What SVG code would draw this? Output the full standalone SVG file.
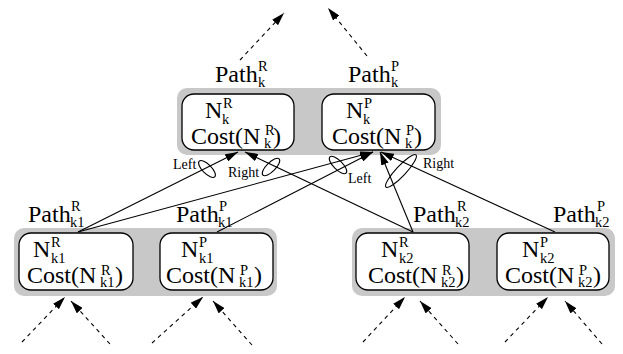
<svg xmlns="http://www.w3.org/2000/svg" width="623" height="354" viewBox="0 0 623 354">
  <style>
    text { font-family: "Liberation Serif", "Times New Roman", serif; fill: #000; }
    .m { font-size: 24px; }
    .s { font-size: 14.5px; }
    .lbl { font-size: 14px; }
    .pair { fill: #c8c8c8; stroke: none; }
    .box { fill: #fff; stroke: #000; stroke-width: 1.3; }
    .edge { fill: none; stroke: #000; stroke-width: 1.1; marker-end: url(#head); }
    .flow { fill: none; stroke: #000; stroke-width: 1.1; stroke-dasharray: 4 4; marker-end: url(#head); }
    .ring { fill: none; stroke: #000; stroke-width: 1.1; }
  </style>
  <defs>
    <marker id="head" viewBox="0 0 13 8" refX="13" refY="4" markerWidth="13" markerHeight="8" orient="auto" markerUnits="userSpaceOnUse">
      <path d="M0,0 L13,4 L0,8 z" fill="#000"/>
    </marker>
  </defs>

  <rect width="623" height="354" fill="#fff"/>

  <!-- shaded pairs -->
  <rect class="pair" x="177" y="88" width="264" height="67" rx="10"/>
  <rect class="pair" x="14" y="228" width="263" height="68" rx="10"/>
  <rect class="pair" x="352" y="228" width="263" height="68" rx="10"/>

  <!-- level k -->
  <g id="node-k-R">
    <text class="m" x="215" y="82">Path<tspan class="s" x="258" y="71">R</tspan><tspan class="s" x="258" y="87">k</tspan></text>
    <rect class="box" x="182" y="94" width="112" height="56" rx="12"/>
    <text class="m" x="205" y="118">N<tspan class="s" x="223" y="108">R</tspan><tspan class="s" x="222" y="124">k</tspan></text>
    <text class="m" x="191" y="144">Cost(N<tspan class="s" x="265" y="135">R</tspan><tspan class="s" x="264" y="148">k</tspan><tspan x="273" y="144">)</tspan></text>
  </g>
  <g id="node-k-P">
    <text class="m" x="348" y="82">Path<tspan class="s" x="391" y="71">P</tspan><tspan class="s" x="391" y="87">k</tspan></text>
    <rect class="box" x="322" y="94" width="113" height="56" rx="12"/>
    <text class="m" x="346" y="118">N<tspan class="s" x="364" y="108">P</tspan><tspan class="s" x="363" y="124">k</tspan></text>
    <text class="m" x="332" y="144">Cost(N<tspan class="s" x="406" y="135">P</tspan><tspan class="s" x="405" y="148">k</tspan><tspan x="414" y="144">)</tspan></text>
  </g>

  <!-- level k1 -->
  <g id="node-k1-R">
    <text class="m" x="28" y="222">Path<tspan class="s" x="71" y="211">R</tspan><tspan class="s" x="70" y="227">k1</tspan></text>
    <rect class="box" x="19" y="233" width="114" height="57" rx="12"/>
    <text class="m" x="33" y="257">N<tspan class="s" x="51" y="247">R</tspan><tspan class="s" x="51" y="263">k1</tspan></text>
    <text class="m" x="27" y="283">Cost(N<tspan class="s" x="101" y="275">R</tspan><tspan class="s" x="100" y="287">k1</tspan><tspan x="115" y="283">)</tspan></text>
  </g>
  <g id="node-k1-P">
    <text class="m" x="176" y="222">Path<tspan class="s" x="219" y="211">P</tspan><tspan class="s" x="218" y="227">k1</tspan></text>
    <rect class="box" x="160" y="233" width="113" height="57" rx="12"/>
    <text class="m" x="181" y="257">N<tspan class="s" x="199" y="247">P</tspan><tspan class="s" x="199" y="263">k1</tspan></text>
    <text class="m" x="166" y="283">Cost(N<tspan class="s" x="240" y="275">P</tspan><tspan class="s" x="239" y="287">k1</tspan><tspan x="254" y="283">)</tspan></text>
  </g>

  <!-- level k2 -->
  <g id="node-k2-R">
    <text class="m" x="413" y="222">Path<tspan class="s" x="457" y="211">R</tspan><tspan class="s" x="455" y="227">k2</tspan></text>
    <rect class="box" x="356" y="233" width="113" height="57" rx="12"/>
    <text class="m" x="381" y="257">N<tspan class="s" x="399" y="247">R</tspan><tspan class="s" x="399" y="263">k2</tspan></text>
    <text class="m" x="368" y="283">Cost(N<tspan class="s" x="442" y="275">R</tspan><tspan class="s" x="441" y="287">k2</tspan><tspan x="456" y="283">)</tspan></text>
  </g>
  <g id="node-k2-P">
    <text class="m" x="553" y="222">Path<tspan class="s" x="597" y="211">P</tspan><tspan class="s" x="595" y="227">k2</tspan></text>
    <rect class="box" x="497" y="233" width="112" height="57" rx="12"/>
    <text class="m" x="522" y="257">N<tspan class="s" x="540" y="247">P</tspan><tspan class="s" x="540" y="263">k2</tspan></text>
    <text class="m" x="505" y="283">Cost(N<tspan class="s" x="579" y="275">P</tspan><tspan class="s" x="578" y="287">k2</tspan><tspan x="593" y="283">)</tspan></text>
  </g>

  <!-- connectors -->
  <g id="connectors">
    <!-- children to parents -->
    <line class="edge" x1="78" y1="232" x2="238" y2="152"/>
    <line class="edge" x1="78" y1="232" x2="373" y2="152"/>
    <line class="edge" x1="217" y1="232" x2="373" y2="152"/>
    <line class="edge" x1="413" y1="232" x2="245" y2="152"/>
    <line class="edge" x1="413" y1="232" x2="380" y2="152"/>
    <line class="edge" x1="555" y1="232" x2="381" y2="152"/>

    <!-- branch markers -->
    <ellipse class="ring" cx="207" cy="169" rx="11" ry="4.5" transform="rotate(45 207 169)"/>
    <text class="lbl" x="173" y="169">Left</text>
    <ellipse class="ring" cx="271" cy="167" rx="11.5" ry="4.5" transform="rotate(-45 271 167)"/>
    <text class="lbl" x="228" y="177">Right</text>
    <ellipse class="ring" cx="338" cy="165" rx="11.5" ry="4.5" transform="rotate(45 338 165)"/>
    <text class="lbl" x="348" y="183">Left</text>
    <ellipse class="ring" cx="401" cy="171" rx="22" ry="5" transform="rotate(-47 401 171)"/>
    <text class="lbl" x="423" y="168">Right</text>

    <!-- continuation above -->
    <line class="flow" x1="240" y1="60" x2="284" y2="13"/>
    <line class="flow" x1="367" y1="56" x2="328" y2="8"/>

    <!-- continuation below -->
    <line class="flow" x1="22" y1="342" x2="65" y2="297"/>
    <line class="flow" x1="110" y1="344" x2="71" y2="301"/>
    <line class="flow" x1="152" y1="343" x2="203" y2="297"/>
    <line class="flow" x1="252" y1="345" x2="213" y2="301"/>
    <line class="flow" x1="363" y1="342" x2="405" y2="297"/>
    <line class="flow" x1="458" y1="344" x2="420" y2="301"/>
    <line class="flow" x1="505" y1="342" x2="548" y2="297"/>
    <line class="flow" x1="602" y1="344" x2="565" y2="301"/>
  </g>
</svg>
